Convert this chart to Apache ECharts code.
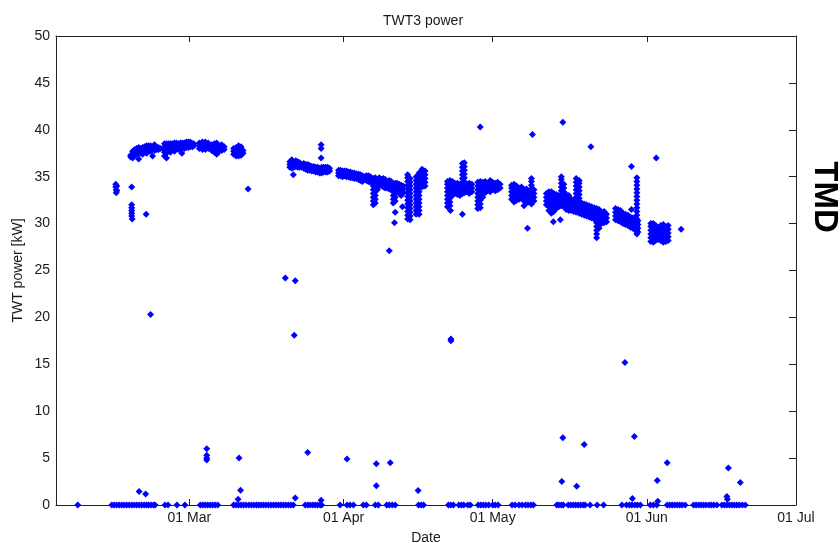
<!DOCTYPE html>
<html>
<head>
<meta charset="utf-8">
<script src="https://cdn.jsdelivr.net/npm/echarts@6/dist/echarts.min.js"></script>
<style>html,body{margin:0;padding:0;background:#fff}#chart{width:840px;height:543px}</style>
</head>
<body>
<div id="chart"></div>
<script>
// ---- texts ----
const chartTitle = 'TWT3 power';
const xAxisName = 'Date';
const yAxisName = 'TWT power [kW]';
const sideLabel = 'TMD';
const monthNames = ['Jan','Feb','Mar','Apr','May','Jun','Jul','Aug','Sep','Oct','Nov','Dec'];
const year = 2009;

// ---- axis ranges (day of year, kW) ----
const xStartDay = 33.18;
const xEndDay = 182;     // 01 Jul
const yMin = 0, yMax = 50, yStep = 5;

// ---- data: [day of year, list of kW values observed on that day] ----
const bandColumns = [
  [45.2,[34.2,33.9]],[45.3,[33.6,33.3]],[45.4,[34.0,33.5]],
  [48.4,[33.9,32.0,31.7,31.4,31.1,30.8]],[48.5,[30.5]],[51.3,[31.0]],
  [48.2,[37.1,37.3]],[48.6,[37.0,37.4,37.7]],[49.0,[37.3,37.6,37.9]],[49.4,[37.4,37.7,38.0]],
  [49.8,[36.9,37.5,37.8,38.1]],[50.2,[37.5,37.8,38.0]],[50.6,[37.4,37.7,38.1]],[51.0,[37.6,37.9,38.2]],
  [51.4,[37.5,37.8,38.1,38.3]],[51.8,[37.7,38.0,38.3]],[52.2,[37.7,38.0,38.3]],[52.6,[37.2,37.9,38.2]],
  [53.0,[37.8,38.1,38.4]],[53.4,[37.9,38.1]],[53.8,[37.9,38.1]],[54.2,[38.0]],
  [55.0,[37.2,37.6,37.9,38.2,38.5]],[55.4,[37.0,37.5,37.9,38.2,38.5]],[55.8,[37.9,38.2,38.5]],
  [56.2,[37.6,37.9,38.2,38.5]],[56.6,[37.9,38.2,38.5]],[57.0,[37.7,38.0,38.3,38.6]],[57.4,[38.0,38.3,38.6]],
  [57.8,[37.9,38.2,38.5]],[58.2,[38.0,38.3,38.6]],[58.5,[37.5]],[58.6,[38.1,38.4,38.6]],[59.0,[38.0,38.3,38.6]],
  [59.4,[38.1,38.4,38.7]],[59.8,[38.1,38.4,38.7]],[60.2,[38.2,38.5,38.7]],[60.6,[38.2,38.5]],[60.9,[38.3,38.5]],
  [62.0,[38.0,38.3,38.6]],[62.6,[37.9,38.2,38.5,38.7]],[63.2,[37.9,38.2,38.5,38.7]],[63.8,[38.0,38.3,38.6]],[64.1,[38.2]],
  [64.5,[37.8,38.1,38.4]],[65.0,[37.6,37.9,38.2,38.5]],[65.5,[37.4,37.7,38.0,38.3,38.6]],[66.0,[37.7,38.0,38.3]],
  [66.5,[37.8,38.1,38.4]],[67.0,[37.9,38.2]],
  [68.9,[37.4,37.7,38.0]],[69.4,[37.2,37.5,37.8,38.1]],[69.9,[37.2,37.5,37.8,38.1,38.3]],[70.4,[37.3,37.6,37.9,38.2]],[70.8,[37.5,37.8]],
  [71.8,[33.7]],
  [80.2,[36.0,36.3,36.6]],[80.6,[35.9,36.2,36.5,36.8]],[80.9,[35.2]],[81.0,[36.0,36.3,36.6]],[81.4,[36.1,36.4,36.7]],
  [81.8,[36.0,36.3,36.6]],[82.2,[36.0,36.3,36.5]],[82.6,[36.0,36.3]],[83.0,[35.9,36.2,36.4]],[83.4,[35.8,36.1,36.3]],
  [83.8,[35.7,36.0,36.3]],[84.2,[35.7,35.9,36.2]],[84.6,[35.6,35.9,36.1]],[85.0,[35.6,35.8,36.1]],[85.4,[35.5,35.8,36.0]],
  [85.8,[35.5,35.7,36.0]],[86.2,[35.4,35.7,35.9]],[86.5,[38.4,38.0,37.0]],[86.6,[35.4,35.7,36.0]],[87.0,[35.5,35.7,36.0]],
  [87.4,[35.5,35.8,36.0]],[87.8,[35.5,35.8,36.0]],[88.2,[35.6,35.9]],
  [90.0,[35.1,35.4,35.7]],[90.4,[35.1,35.4,35.7]],[90.8,[35.0,35.3,35.6]],[91.2,[35.1,35.4,35.6]],[91.6,[35.0,35.3,35.6]],
  [92.0,[35.0,35.3,35.5]],[92.4,[34.9,35.2,35.5]],[92.8,[34.9,35.2,35.4]],[93.2,[34.8,35.1,35.4]],[93.6,[34.8,35.1,35.3]],
  [94.0,[34.7,35.0,35.3]],[94.4,[34.6,34.9,35.2]],[94.8,[34.5,34.8,35.1]],[95.2,[34.7,35.0]],[95.6,[34.6,34.9,35.1]],
  [96.0,[34.5,34.8,35.1]],[96.4,[34.4,34.7,35.0]],
  [97.0,[32.0,32.4,32.8,33.2,33.6,34.0,34.4,34.8]],[97.4,[32.2,32.6,33.0,33.4,33.8,34.2,34.6,34.9]],
  [97.8,[33.6,34.0,34.3,34.6]],[98.2,[34.0,34.3,34.6,34.9]],[98.6,[34.1,34.4,34.7]],[99.0,[33.9,34.2,34.5,34.8]],
  [99.4,[33.8,34.1,34.4,34.7]],[99.8,[33.8,34.1,34.4]],[100.2,[27.1,33.7,34.0,34.3,34.6]],[100.6,[33.6,33.9,34.2,34.5]],
  [101.0,[32.2,32.6,33.0,33.4,33.8,34.2]],[101.25,[30.1]],[101.4,[31.2,32.4,32.8,33.2,33.6,34.0,34.3]],
  [101.8,[33.4,33.7,34.0,34.3]],[102.2,[33.2,33.6,33.9,34.2]],[102.6,[33.0,33.4,33.8,34.1]],[102.85,[31.8]],[103.0,[33.3,33.7,34.0]],
  [103.9,[30.5,30.9,31.3,31.7,32.1,32.5,32.9,33.3,33.7,34.1,34.5,34.9,35.2]],
  [104.4,[30.4,30.8,31.2,31.6,32.0,32.4,32.8,33.2,33.6,34.0,34.4,34.8]],
  [105.6,[31.0,31.4,31.8,32.2,32.6,33.0,33.4,33.8,34.2,34.6,35.0]],
  [106.2,[31.0,31.4,31.8,32.2,32.6,33.0,33.4,33.8,34.2,34.6,35.0,35.4]],
  [106.8,[33.9,34.3,34.7,35.1,35.5,35.8]],[107.4,[34.0,34.4,34.8,35.2,35.6]],
  [111.9,[31.8,32.2,32.6,33.0,33.4,33.8,34.2,34.5]],[112.4,[31.9,32.3,32.7,33.1,33.5,33.9,34.3,34.6]],[112.5,[31.4]],
  [112.9,[33.0,33.4,33.8,34.2,34.5]],[113.4,[33.2,33.6,34.0,34.3]],[113.9,[33.1,33.5,33.9,34.3]],[114.4,[33.0,33.4,33.8,34.2]],
  [114.9,[31.0,33.2,33.6,34.0,34.4,34.8,35.2,35.6,36.0,36.4]],[115.3,[33.3,33.7,34.1,34.5,34.9,35.3,35.7,36.1,36.5]],
  [115.8,[33.4,33.8,34.2]],[116.3,[33.2,33.6,34.0,34.3]],[116.8,[33.4,33.8,34.2]],
  [118.0,[31.6,32.0,32.4,32.8,33.2,33.6,34.0,34.4]],[118.5,[31.7,32.1,32.5,32.9,33.3,33.7,34.1,34.5,40.3]],
  [119.0,[32.8,33.2,33.6,34.0,34.4]],[119.5,[33.3,33.7,34.1,34.5]],[120.0,[33.5,33.9,34.3]],[120.5,[33.4,33.8,34.2,34.6]],
  [121.0,[33.6,34.0,34.4]],[121.5,[33.5,33.9,34.3]],[122.0,[33.6,34.0,34.4]],[122.5,[33.8,34.2]],
  [124.8,[32.6,33.0,33.4,33.8,34.1]],[125.3,[32.3,32.7,33.1,33.5,33.9,34.2]],[125.8,[32.5,32.9,33.3,33.7,34.0]],
  [126.3,[32.6,33.0,33.4,33.8]],[126.8,[32.7,33.1,33.5,33.9]],[127.3,[31.9,32.4,32.8,33.2,33.6]],
  [127.8,[32.2,32.6,33.0,33.4,33.7]],[128.0,[29.5]],[128.3,[32.3,32.7,33.1,33.5]],
  [128.8,[32.1,32.5,32.9,33.3,33.7,34.1,34.5,34.8]],[129.0,[39.5]],[129.3,[32.4,32.8,33.2,33.6]],
  [131.8,[32.0,32.4,32.8,33.2]],[132.3,[31.4,31.8,32.2,32.6,33.0,33.4]],[132.8,[31.1,31.5,31.9,32.3,32.7,33.1,33.4]],
  [133.2,[30.2]],[133.3,[31.3,31.7,32.1,32.5,32.9,33.2]],[133.8,[31.6,32.0,32.4,32.8,33.1]],[134.3,[31.8,32.2,32.6,33.0]],
  [134.6,[30.4]],[134.8,[31.9,32.3,32.7,33.1,33.5,33.9,34.3,34.7,35.0]],[135.1,[40.8]],
  [135.3,[31.8,32.2,32.6,33.0,33.4,33.8,34.2]],
  [135.8,[31.5,31.9,32.3,32.7,33.1]],[136.3,[31.4,31.8,32.2,32.6,33.0]],[136.8,[31.4,31.8,32.2,32.6]],
  [137.3,[31.3,31.7,32.1,32.5]],[137.8,[31.2,31.6,32.0,32.4,32.8,33.2,33.6,34.0,34.4,34.8]],
  [138.4,[31.1,31.5,31.9,32.3,32.7,33.1,33.5,33.9,34.3,34.6]],[138.9,[31.0,31.4,31.8,32.2]],
  [139.4,[30.9,31.3,31.7,32.1]],[139.9,[30.8,31.2,31.6,32.0]],[140.4,[30.7,31.1,31.5,31.9]],
  [140.75,[38.2]],[140.9,[30.6,31.0,31.4,31.8]],[141.4,[30.5,30.9,31.3,31.7]],
  [141.9,[28.5,28.9,29.3,29.7,30.1,30.5,30.9,31.3,31.6]],[142.4,[29.5,29.9,30.3,30.7,31.1,31.5]],
  [142.9,[30.0,30.4,30.8,31.2]],[143.4,[30.1,30.5,30.9,31.3]],[143.9,[30.2,30.6,31.0]],
  [145.7,[30.4,30.8,31.2,31.6]],[146.2,[30.3,30.7,31.1,31.5]],[146.7,[30.2,30.6,31.0,31.4]],[147.2,[30.0,30.4,30.8,31.1]],
  [147.7,[29.9,30.3,30.7,31.0]],[148.2,[29.8,30.2,30.6,30.9]],[148.7,[29.6,30.0,30.4,30.7]],[148.9,[31.5,36.1]],
  [149.2,[29.5,29.9,30.3,30.6]],[149.7,[29.3,29.7,30.1,30.5]],[150.2,[29.1,29.5,29.9,30.3]],
  [150.0,[28.9,29.3,29.7,30.1,30.5,30.9,31.3,31.7,32.1,32.5,32.9,33.3,33.7,34.1,34.5,34.9]],
  [152.8,[28.1,28.5,28.9,29.3,29.7,30.0]],[153.3,[28.0,28.4,28.8,29.2,29.6,30.0]],[153.8,[28.2,28.6,29.0,29.4,29.8]],
  [153.9,[37.0]],[154.3,[28.3,28.7,29.1,29.5]],[154.8,[28.2,28.6,29.0,29.4,29.8]],[155.3,[28.0,28.4,28.8,29.2,29.6,29.9]],
  [155.8,[28.1,28.5,28.9,29.3,29.7]],[156.3,[28.2,28.6,29.0,29.4,29.8]],[158.9,[29.4]]
];

// isolated low readings [day of year, kW]
const lowReadings = [
  [52.2,20.3],[79.3,24.2],[81.3,23.9],[81.1,18.1],
  [63.5,6.0],[63.5,5.3],[63.5,5.0],[63.5,4.8],[70.0,5.0],[70.3,1.56],[69.8,0.6],
  [49.9,1.45],[51.2,1.17],[83.8,5.6],[81.3,0.75],[91.7,4.9],[97.6,4.4],[97.6,2.06],[100.4,4.5],
  [86.5,0.5],[106.0,1.55],[112.6,17.7],[112.6,17.5],[147.6,15.2],[135.1,7.17],[149.5,7.3],
  [139.4,6.46],[134.9,2.5],[137.9,2.0],[154.1,2.6],[156.1,4.5],[168.4,3.94],[170.8,2.4],
  [149.1,0.7],[168.1,0.9],[168.2,0.6],[154.2,0.4]
];

// days with the TWT switched off (0 kW)
const offDays = [
  37.55,
  44.4,44.9,45.4,45.9,46.4,46.9,47.4,47.9,48.4,48.9,49.4,49.9,50.4,50.9,51.4,51.8,52.3,52.8,53.1,
  55.1,55.7,57.5,59.1,
  62.2,62.7,63.2,63.7,64.2,64.7,65.2,65.7,
  68.9,69.4,69.9,70.4,70.9,71.4,72.0,72.5,73.0,73.5,73.9,74.4,74.9,75.4,75.9,76.4,76.9,77.4,77.9,78.4,78.9,79.4,79.9,80.4,80.9,
  83.3,83.8,84.3,84.8,85.3,85.8,86.3,86.6,
  90.3,91.7,92.3,93.0,95.0,95.6,97.4,98.0,99.7,100.2,100.8,101.4,106.1,106.6,107.1,
  112.1,112.6,113.1,114.2,114.7,115.2,116.0,116.5,
  118.1,118.6,119.1,119.6,120.2,121.0,121.5,122.1,
  124.9,125.5,126.3,126.9,127.6,128.1,128.7,129.2,
  133.9,134.3,134.8,135.2,136.2,136.7,137.2,137.7,138.2,138.7,139.2,139.6,140.6,142.0,143.3,
  147.0,147.9,148.5,149.0,149.6,150.1,150.7,152.7,153.3,154.0,
  156.1,156.6,157.1,157.6,158.1,158.6,159.1,159.7,
  161.4,161.9,162.4,162.9,163.4,163.9,164.5,165.0,165.5,166.1,
  167.1,167.6,168.1,168.6,169.1,169.6,170.1,170.6,171.2,171.8
];

// ---- build ----
const dayToTime = d => Date.UTC(year, 0, 1) + (d - 1) * 86400000;
const bandData = [];
bandColumns.forEach(([d, vals]) => vals.forEach(v => bandData.push([dayToTime(d), v])));
const lowData = lowReadings.map(([d, v]) => [dayToTime(d), v]);
const offData = offDays.map(d => [dayToTime(d), 0]);

const FONT = '"Liberation Sans", Arial, Helvetica, sans-serif';
const TXT = '#1a1a1a';
const LINE = '#222';

function monthLabel(val) {
  const dt = new Date(val);
  if (dt.getUTCDate() !== 1 || dt.getUTCHours() !== 0 || dt.getUTCMinutes() !== 0) return '';
  return '01 ' + monthNames[dt.getUTCMonth()];
}

const markerStyle = {
  type: 'scatter', symbol: 'diamond', symbolSize: 7,
  itemStyle: { color: '#0000ff', opacity: 1 }, silent: true, animation: false
};

const chart = echarts.init(document.getElementById('chart'), null, { renderer: 'canvas' });
chart.setOption({
  useUTC: true,
  animation: false,
  backgroundColor: '#fff',
  title: {
    text: chartTitle, left: 418, top: 9, textAlign: 'center',
    textStyle: { fontFamily: FONT, fontSize: 14, fontWeight: 'normal', color: TXT }
  },
  grid: { left: 56, right: 44, top: 36, bottom: 38, containLabel: false, outerBoundsMode: 'none' },
  xAxis: [{
    type: 'time', position: 'bottom',
    min: dayToTime(xStartDay), max: dayToTime(xEndDay),
    splitNumber: 5,
    name: xAxisName, nameLocation: 'middle', nameGap: 26, nameMoveOverlap: false,
    nameTextStyle: { fontFamily: FONT, fontSize: 14, color: TXT },
    axisLine: { show: true, onZero: false, lineStyle: { color: LINE, width: 1 } },
    axisTick: { show: true, inside: true, length: 6, lineStyle: { color: LINE } },
    axisLabel: { formatter: monthLabel, fontFamily: FONT, fontSize: 14, color: TXT, margin: 6,
                 showMinLabel: false, showMaxLabel: true, hideOverlap: false },
    splitLine: { show: false }, minorTick: { show: false }
  }, {
    type: 'time', position: 'top',
    min: dayToTime(xStartDay), max: dayToTime(xEndDay),
    splitNumber: 5,
    axisLine: { show: true, onZero: false, lineStyle: { color: LINE, width: 1 } },
    axisTick: { show: true, inside: true, length: 6, lineStyle: { color: LINE } },
    axisLabel: { show: false }, splitLine: { show: false }
  }],
  yAxis: [{
    type: 'value', position: 'left', min: yMin, max: yMax, interval: yStep,
    name: yAxisName, nameLocation: 'middle', nameGap: 31, nameMoveOverlap: false,
    nameTextStyle: { fontFamily: FONT, fontSize: 14, color: TXT },
    axisLine: { show: true, onZero: false, lineStyle: { color: LINE, width: 1 } },
    axisTick: { show: false },
    axisLabel: { fontFamily: FONT, fontSize: 14, color: TXT, margin: 6 },
    splitLine: { show: false }
  }, {
    type: 'value', position: 'right', min: yMin, max: yMax, interval: yStep,
    axisLine: { show: true, onZero: false, lineStyle: { color: LINE, width: 1 } },
    axisTick: { show: true, inside: true, length: 7, lineStyle: { color: LINE } },
    axisLabel: { show: false }, splitLine: { show: false }
  }],
  graphic: [{
    type: 'text', x: 824, y: 197, rotation: -Math.PI / 2,
    style: { text: sideLabel, font: 'bold 33px ' + FONT, fill: '#000',
             align: 'center', verticalAlign: 'middle', textAlign: 'center', textVerticalAlign: 'middle' }
  }],
  series: [
    Object.assign({ name: 'off', data: offData, xAxisIndex: 0, yAxisIndex: 0 }, markerStyle),
    Object.assign({ name: 'low', data: lowData, xAxisIndex: 0, yAxisIndex: 0 }, markerStyle),
    Object.assign({ name: 'band', data: bandData, xAxisIndex: 0, yAxisIndex: 0 }, markerStyle)
  ]
});
</script>
</body>
</html>
